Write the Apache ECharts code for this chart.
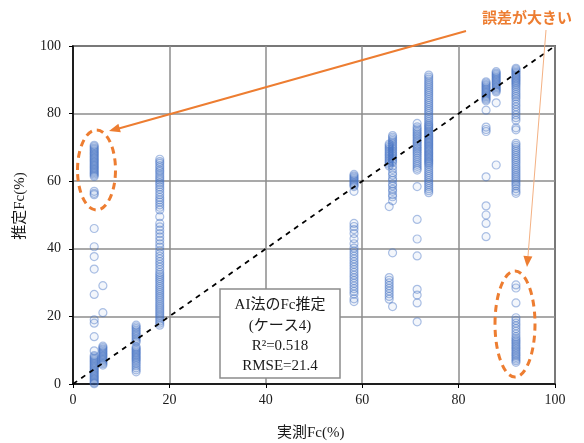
<!DOCTYPE html>
<html>
<head>
<meta charset="utf-8">
<script src="https://cdn.jsdelivr.net/npm/echarts@6/dist/echarts.min.js"></script>
<style>html,body{margin:0;padding:0;background:#fff;}#c{width:584px;height:443px;}</style>
</head>
<body>
<div id="c"></div>
<script>
// Measured Fc (x) of each sample column
const colX = [4.4, 6.2, 13.1, 18.0, 58.3, 65.6, 66.3, 71.4, 73.8, 85.7, 87.8, 91.9];
// Estimated Fc (y) for each column
const est04 = [70.6, 70.2, 69.8, 69.4, 69.0, 68.6, 68.2, 67.8, 67.4, 67.0, 66.6, 66.2, 65.8, 65.4, 65.0, 64.6, 64.2, 63.8, 63.4, 63.0, 62.6, 62.2, 61.8, 61.4, 57.0, 56.4, 56.0, 46.0, 40.6, 37.7, 34.0, 26.5, 19.0, 18.0, 14.0, 9.8,
  8.4, 8.0, 7.6, 7.2, 6.8, 6.4, 6.0, 5.6, 5.2, 4.8, 4.4, 4.0, 3.6, 3.2, 2.8, 2.4, 2.0, 1.6, 1.2, 0.8, 0.4, 0.1];
const est06 = [29.1, 21.1, 11.2, 10.8, 10.4, 10.0, 9.6, 9.2, 8.8, 8.4, 8.0, 7.6, 7.2, 6.8, 6.4, 6.0, 5.6];
const est13 = [17.4, 16.9, 16.4, 15.9, 15.4, 14.9, 14.4, 13.9, 13.4, 12.9, 12.4, 11.0, 10.6, 10.2, 9.8, 9.4, 9.0, 8.6, 8.2, 7.8, 7.4, 7.0, 6.5, 6.0, 5.4, 4.8, 4.2, 3.6];
const est18 = [66.5, 65.8, 65.3, 64.6, 64.0, 63.3, 62.8, 62.1, 61.5, 60.9, 60.3, 59.6, 59.0, 58.3, 57.6, 56.8, 56.0, 55.2, 54.5, 53.8, 53.0, 52.3, 51.5, 49.5, 47.5, 46.5, 45.5, 44.5, 43.5, 42.5, 41.5, 40.5, 39.5, 38.6, 37.8, 37.0, 36.2, 35.4, 34.6, 33.8, 33.0, 32.4, 31.8, 31.2, 30.6, 30.0, 29.4, 28.8, 28.2, 27.6, 27.0, 26.4, 25.8, 25.2, 24.6, 24.0, 23.4, 22.8, 22.2, 21.6, 21.0, 20.4, 19.8, 19.2, 18.6, 18.0, 17.4];
const est58 = [62.0, 61.6, 61.2, 60.8, 60.4, 60.0, 59.6, 59.2, 58.8, 58.4, 57.0, 47.5, 46.6, 45.7, 44.5, 43.0, 41.5, 40.2, 39.4, 38.6, 37.8, 37.0, 36.2, 35.4, 34.6, 33.8, 33.0, 32.2, 31.4, 30.6, 29.8, 29.0, 28.2, 27.4, 26.6, 25.2, 24.4];
const est656 = [71.0, 70.5, 70.0, 69.5, 69.0, 68.5, 68.0, 67.5, 67.0, 66.5, 66.0, 65.5, 65.0, 64.5, 52.5, 31.5, 30.7, 29.9, 29.1, 28.3, 27.5, 26.7, 25.9, 25.1];
const est663 = [73.5, 73.0, 72.5, 72.0, 71.5, 71.0, 70.5, 70.0, 69.5, 69.0, 68.5, 68.0, 67.5, 67.0, 66.5, 66.0, 65.5, 64.5, 63.5, 62.5, 61.8, 60.8, 60.2, 59.2, 58.6, 57.6, 57.0, 56.0, 55.4, 54.2, 38.8, 22.9];
const est714 = [77.1, 76.1, 75.5, 75.0, 74.5, 74.0, 73.5, 73.0, 72.5, 72.0, 71.5, 71.0, 70.5, 70.0, 69.5, 69.0, 68.5, 68.0, 67.4, 66.8, 66.2, 65.6, 65.0, 64.4, 63.8, 63.3, 58.4, 48.7, 42.9, 37.9, 28.0, 26.3, 24.0, 18.4];
const est738 = [91.4, 90.8, 90.2, 89.6, 89.0, 88.4, 87.8, 87.2, 86.6, 86.0, 85.4, 84.8, 84.2, 83.6, 83.0, 82.4, 81.8, 81.2, 80.6, 80.0, 79.4, 78.8, 78.2, 77.6, 77.0, 76.6, 76.2, 75.8, 75.4, 75.0, 74.6, 74.2, 73.8, 73.4, 73.0, 72.6, 72.2, 71.8, 71.4, 71.0, 70.6, 70.2, 69.8, 69.4, 69.0, 68.6, 68.2, 67.8, 67.4, 67.0, 66.6, 66.2, 65.8, 65.4, 65.0, 64.4, 63.8, 63.2, 62.6, 62.0, 61.4, 60.8, 60.2, 59.6, 59.0, 58.4, 57.8, 57.2, 56.6];
const est857 = [89.4, 89.0, 88.6, 88.2, 87.8, 87.4, 87.0, 86.6, 86.2, 85.8, 85.4, 85.0, 84.6, 84.2, 83.8, 81.0, 76.0, 75.3, 74.7, 61.3, 52.7, 50.0, 47.5, 43.6];
const est878 = [92.4, 92.0, 91.6, 91.2, 90.8, 90.4, 90.0, 89.6, 89.2, 88.8, 88.4, 88.0, 87.6, 87.2, 86.8, 86.4, 83.2, 64.8];
const est919 = [93.4, 93.0, 92.6, 92.2, 91.8, 91.4, 91.0, 90.6, 90.2, 89.8, 89.4, 89.0, 88.5, 88.0, 87.4, 86.8, 86.2, 85.6, 85.0, 84.4, 83.6, 82.8, 82.0, 81.2, 80.4, 79.6, 78.8, 78.0, 75.8, 75.2, 71.2, 70.6, 70.0, 69.4, 68.8, 68.2, 67.6, 67.0, 66.4, 65.8, 65.2, 64.6, 64.0, 63.4, 62.8, 62.2, 61.6, 61.0, 60.4, 59.8, 59.2, 58.6, 57.8, 57.0, 56.4,
  29.3, 28.4, 24.0, 19.6, 18.8, 18.0, 17.2, 16.4, 15.6, 14.8, 14.0, 13.4, 12.9, 12.4, 11.9, 11.4, 10.9, 10.4, 9.9, 9.4, 8.9, 8.4, 7.9, 7.4, 6.9, 6.4];
const estCols = [est04, est06, est13, est18, est58, est656, est663, est714, est738, est857, est878, est919];
// 1:1 reference line
const lineX = [0, 100];
const lineY = [0, 100];
// Axis ticks
const xTicks = [0, 20, 40, 60, 80, 100];
const yTicks = [0, 20, 40, 60, 80, 100];

const xName = '実測Fc(%)';
const yName = '推定Fc(%)';
const boxLines = ['AI法のFc推定', '(ケース4)', 'R²=0.518', 'RMSE=21.4'];
const calloutText = '誤差が大きい';

const scatterData = [];
colX.forEach((x, i) => estCols[i].forEach(y => scatterData.push([x, y])));

const serif = "'Liberation Serif', 'Noto Sans CJK JP', serif";
const orange = '#ED7D31';

function arrowHead(x1, y1, x2, y2, len, half) {
  const dx = x2 - x1, dy = y2 - y1, L = Math.sqrt(dx * dx + dy * dy);
  const ux = dx / L, uy = dy / L;
  const bx = x2 - ux * len, by = y2 - uy * len;
  return [[x2, y2], [bx - uy * half, by + ux * half], [bx + uy * half, by - ux * half]];
}

const chart = echarts.init(document.getElementById('c'), null, {renderer: 'canvas'});
chart.setOption({
  animation: false,
  backgroundColor: '#fff',
  grid: {left: 73, right: 29, top: 46, bottom: 59, show: true, borderColor: '#000', borderWidth: 1.5, backgroundColor: 'transparent'},
  xAxis: {
    type: 'value', min: xTicks[0], max: xTicks[xTicks.length - 1], interval: xTicks[1] - xTicks[0],
    axisLine: {show: true, lineStyle: {color: '#000', width: 1.5}},
    axisTick: {show: true, inside: false, length: 4, lineStyle: {color: '#000', width: 1}},
    axisLabel: {color: '#1a1a1a', fontFamily: serif, fontSize: 14, margin: 9},
    splitLine: {show: true, lineStyle: {color: '#8c8c8c', width: 1.5}}
  },
  yAxis: {
    type: 'value', min: yTicks[0], max: yTicks[yTicks.length - 1], interval: yTicks[1] - yTicks[0],
    axisLine: {show: true, lineStyle: {color: '#000', width: 1.5}},
    axisTick: {show: true, inside: false, length: 4, lineStyle: {color: '#000', width: 1}},
    axisLabel: {color: '#1a1a1a', fontFamily: serif, fontSize: 14, margin: 12},
    splitLine: {show: true, lineStyle: {color: '#8c8c8c', width: 1.5}}
  },
  series: [
    {
      type: 'scatter', data: scatterData, symbol: 'circle', symbolSize: 8, z: 2,
      itemStyle: {color: 'rgba(68,114,196,0.08)', borderColor: 'rgba(68,114,196,0.55)', borderWidth: 1.2}
    },
    {
      type: 'line', data: lineX.map((x, i) => [x, lineY[i]]), symbol: 'none', z: 3,
      lineStyle: {color: '#000', width: 1.8, type: [5, 5]}
    }
  ],
  graphic: [
    {type: 'text', left: 277, top: 426, z: 10, style: {text: xName, font: "15px " + serif, fill: '#1a1a1a'}},
    {type: 'text', x: 20, y: 206, rotation: Math.PI / 2, z: 10, style: {text: yName, font: "15px " + serif, fill: '#1a1a1a', align: 'center', verticalAlign: 'middle'}},
    {type: 'rect', z: 10, shape: {x: 220, y: 289, width: 120, height: 89}, style: {fill: '#fff', stroke: '#8c8c8c', lineWidth: 1.5}},
    {type: 'text', z: 11, x: 280, y: 305, style: {text: boxLines[0], font: "15px " + serif, fill: '#1a1a1a', align: 'center', verticalAlign: 'middle'}},
    {type: 'text', z: 11, x: 280, y: 326, style: {text: boxLines[1], font: "15px " + serif, fill: '#1a1a1a', align: 'center', verticalAlign: 'middle'}},
    {type: 'text', z: 11, x: 280, y: 346, style: {text: boxLines[2], font: "15px " + serif, fill: '#1a1a1a', align: 'center', verticalAlign: 'middle'}},
    {type: 'text', z: 11, x: 280, y: 366, style: {text: boxLines[3], font: "15px " + serif, fill: '#1a1a1a', align: 'center', verticalAlign: 'middle'}},
    {type: 'text', z: 12, x: 527, y: 17, style: {text: calloutText, font: "bold 15px 'Noto Sans CJK JP', sans-serif", fill: orange, align: 'center', verticalAlign: 'middle'}},
    {type: 'ellipse', z: 12, shape: {cx: 96.5, cy: 170, rx: 19, ry: 40}, style: {fill: 'none', stroke: orange, lineWidth: 3, lineDash: [7, 5]}},
    {type: 'ellipse', z: 12, shape: {cx: 515, cy: 324, rx: 20, ry: 53}, style: {fill: 'none', stroke: orange, lineWidth: 3, lineDash: [7, 5]}},
    {type: 'line', z: 12, shape: {x1: 466, y1: 31, x2: 117, y2: 129}, style: {stroke: orange, lineWidth: 2}},
    {type: 'polygon', z: 12, shape: {points: arrowHead(466, 31, 109, 131, 11, 4.5)}, style: {fill: orange}},
    {type: 'line', z: 12, shape: {x1: 546, y1: 30, x2: 528, y2: 256}, style: {stroke: '#F4B183', lineWidth: 1}},
    {type: 'polygon', z: 12, shape: {points: arrowHead(546, 30, 527, 267, 11, 4.5)}, style: {fill: orange}}
  ]
});
</script>
</body>
</html>
